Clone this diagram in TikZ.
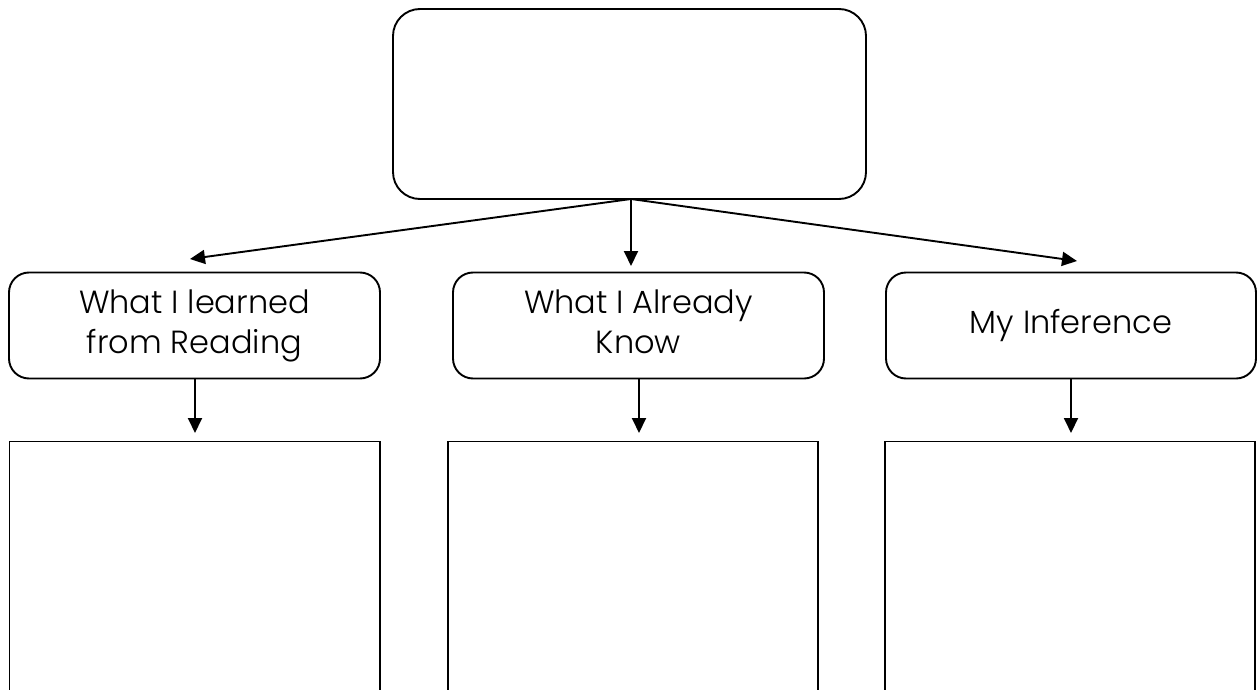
\documentclass[tikz,border=0pt]{standalone}
\usepackage{fontspec}
\IfFontExistsTF{Poppins Light}{\setmainfont{Poppins Light}}{\setmainfont{Poppins}}
\usetikzlibrary{arrows.meta}
\begin{document}
\begin{tikzpicture}[x=1pt,y=-1pt,
  every node/.append style={font=\fontsize{32}{40}\selectfont},
  line/.style={line width=1.9pt},
  arr/.style={line, -{Triangle[length=15pt,width=14pt]}},
  roundbox/.style={draw, line width=1.9pt, rounded corners=20pt, inner sep=0pt, align=center,
                   minimum width=371pt, minimum height=106pt},
  openbox/.style={draw, line width=1.9pt, inner sep=0pt, minimum width=370pt, minimum height=300pt}]
\useasboundingbox (0,0) rectangle (1257,690);
\clip (0,0) rectangle (1257,690);
\fill[white] (0,0) rectangle (1257,690);
% top box
\node[draw, line width=1.9pt, rounded corners=27pt, minimum width=473pt, minimum height=190pt] (top) at (629.5,104) {};
% middle boxes
\node[roundbox] (b1) at (194.5,325.5) {What I learned\\from Reading};
\node[roundbox] (b2) at (638.5,325.5) {What I Already\\Know\vphantom{g}};
\node[roundbox, minimum width=370pt] (b3) at (1071,325.5) {\raisebox{4pt}{My Inference}};
% bottom boxes (open at the bottom edge of the picture)
\node[openbox, minimum width=370.5pt, anchor=north] (c1) at (194.75,440.5) {};
\node[openbox, anchor=north] (c2) at (633,440.5) {};
\node[openbox, anchor=north] (c3) at (1070,440.5) {};
% arrow end points
\coordinate (o) at (631,199);
\coordinate (t1) at (190,259);
\coordinate (t2) at (631,266);
\coordinate (t3) at (1077,261);
\coordinate (s1) at (195,433);
\coordinate (s2) at (639,433);
\coordinate (s3) at (1071,433);
\draw[arr] (o) -- (t1);
\draw[arr] (o) -- (t2);
\draw[arr] (o) -- (t3);
\draw[arr] (b1.south -| s1) -- (s1);
\draw[arr] (b2.south -| s2) -- (s2);
\draw[arr] (b3.south -| s3) -- (s3);
\end{tikzpicture}
\end{document}
